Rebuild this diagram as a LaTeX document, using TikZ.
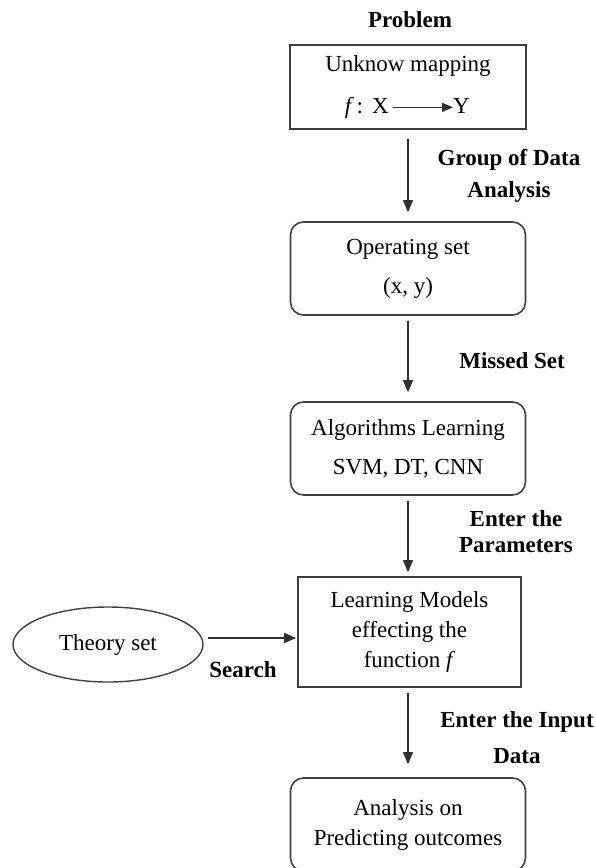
\documentclass[tikz,border=0pt]{standalone}
\usepackage{fontspec}
\setmainfont{Liberation Serif}
\usetikzlibrary{arrows.meta,shapes.geometric}
\definecolor{boxgray}{HTML}{404040}
\definecolor{arrgray}{HTML}{303030}
\begin{document}
\begin{tikzpicture}[x=1pt,y=-1pt,
  every node/.style={font=\fontsize{23}{30}\selectfont, text=black},
  sqbox/.style={draw=boxgray, line width=1.6pt, rectangle, align=center, inner sep=0pt},
  rbox/.style={sqbox, rounded corners=13pt},
  lbl/.style={font=\fontsize{23}{30}\selectfont\bfseries, align=center, inner sep=0pt},
  plain/.style={inner sep=0pt},
  arr/.style={draw=arrgray, line width=1.1pt, -{Triangle[length=12pt,width=10pt]}},
]
\useasboundingbox (0,0) rectangle (595,868);

% title
\node[lbl, anchor=base] (prob) at (410,27) {Problem};

% boxes
\node[sqbox, minimum width=236pt, minimum height=84pt] (b1) at (408,87) {Unknow mapping\\[8pt]\strut};
\node[plain, anchor=base east] (fx) at (389,113) {\textit{f}\hspace{0.12em}:\hspace{0.4em}X};
\node[plain, anchor=base west] (yy) at (453,113) {Y};
\draw[arr, line width=1.2pt, -{Triangle[length=11pt,width=9pt]}, shorten <=4pt] (fx.east) -- (fx.east -| yy.west);

\node[rbox, minimum width=235pt, minimum height=93pt] (b2) at (408,268.5) {Operating set\\[9pt](x, y)};
\node[rbox, minimum width=235pt, minimum height=93pt] (b3) at (408,448.5) {Algorithms Learning\\[9pt]SVM, DT, CNN};
\node[sqbox, minimum width=223pt, minimum height=110pt] (b4) at (409.5,632) {Learning Models\\effecting the\\function \textit{f}};
\node[rbox, minimum width=235pt, minimum height=93pt] (b5) at (408,824.5) {Analysis on\\Predicting outcomes};

\node[ellipse, draw=boxgray, line width=1.4pt, minimum width=190pt, minimum height=75pt, inner sep=0pt] (th) at (108,644.5) {Theory set};

% labels
\node[lbl] (l1) at (509,175.5) {Group of Data\\[2pt]Analysis};
\node[lbl, anchor=base] (l2) at (512,368) {Missed Set};
\node[lbl] (l3) at (516,532) {Enter the\\[-4pt]Parameters};
\node[lbl] (l4) at (517,738) {Enter the Input\\[6pt]Data};
\node[lbl, anchor=base] (l5) at (243,677) {Search};

% connectors
\draw[arr, shorten <=9pt, shorten >=9pt] (b1.south) -- (b1.south |- b2.north);
\draw[arr, shorten <=5pt, shorten >=9pt] (b2.south) -- (b2.south |- b3.north);
\draw[arr, shorten <=5pt, shorten >=4pt] (b3.south) -- (b3.south |- b4.north);
\draw[arr, shorten <=5pt, shorten >=13pt] (b3.south |- b4.south) -- (b3.south |- b5.north);
\draw[arr, shorten <=4pt, shorten >=1pt] ([yshift=6.5pt]th.east) -- ([yshift=6.5pt]th.east -| b4.west);
\end{tikzpicture}
\end{document}
